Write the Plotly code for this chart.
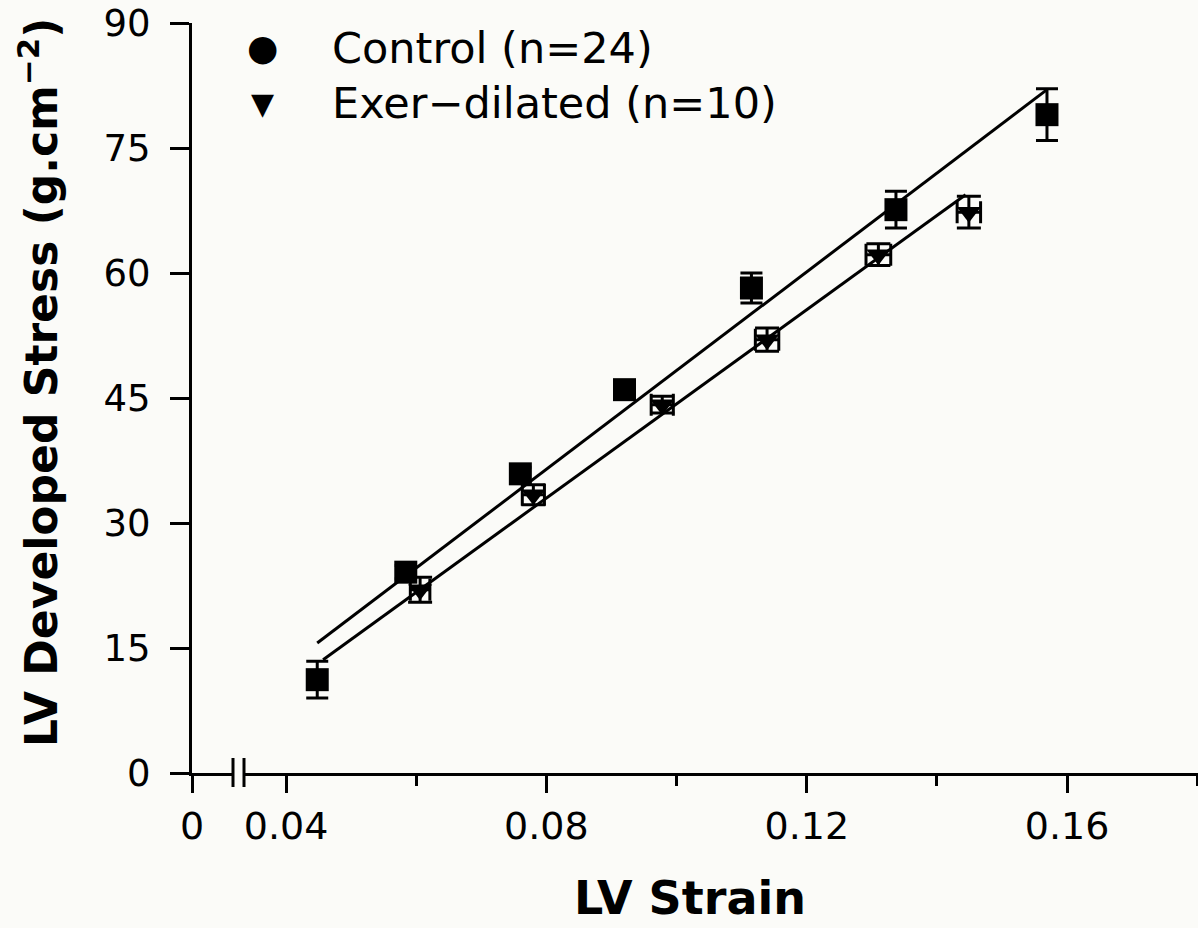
import plotly.graph_objects as go

# Control group: mean LV strain, mean developed stress and its SEM
ctrl_strain = [0.0448, 0.0584, 0.0760, 0.0920, 0.1115, 0.1337, 0.1569]
ctrl_stress = [11.2, 24.1, 35.9, 46.0, 58.2, 67.6, 79.0]
ctrl_stress_err = [2.2, 0.8, 0.8, 0.9, 1.8, 2.2, 3.1]

# Exercise-dilated group: means with SEM in both directions
exer_strain = [0.0606, 0.0780, 0.0978, 0.1139, 0.1310, 0.1449]
exer_stress = [22.0, 33.4, 44.2, 52.0, 62.2, 67.3]
exer_stress_err = [1.5, 1.2, 1.0, 1.4, 1.3, 1.9]
exer_strain_err = [0.0015, 0.0017, 0.0017, 0.0018, 0.0019, 0.0018]

# Regression lines (end points)
ctrl_fit_strain = [0.0448, 0.1569]
ctrl_fit_stress = [15.6, 82.0]
exer_fit_strain = [0.0457, 0.1444]
exer_fit_stress = [13.6, 69.4]

legend_labels = ["Control (n=24)", "Exer\u2212dilated (n=10)"]
legend_symbols = ["\u25CF", "\u25BC"]

x_ticks = [0.04, 0.08, 0.12, 0.16]
y_ticks = [0, 15, 30, 45, 60, 75, 90]

FONT = "DejaVu Sans"
INK = "black"
BG = "#fbfbf8"

W, H = 1198, 928
ML, MR, MT, MB = 192, 0, 23, 155
PW = W - ML - MR
PH = H - MT - MB

# broken x axis: short stub holding the origin, then the data range
stub_end = 41 / PW
main_start = 52 / PW
px_per_unit = 6510.0
main_lo = 0.04 - 42 / px_per_unit
main_hi = 0.1801

fig = go.Figure()

# empty trace so the origin stub axis is laid out
fig.add_trace(go.Scatter(x=[], y=[], xaxis="x", yaxis="y",
                         showlegend=False, hoverinfo="skip"))

fig.add_trace(go.Scatter(
    x=ctrl_fit_strain, y=ctrl_fit_stress, mode="lines",
    line=dict(color=INK, width=3), xaxis="x2", yaxis="y", showlegend=False,
    hoverinfo="skip"))
fig.add_trace(go.Scatter(
    x=exer_fit_strain, y=exer_fit_stress, mode="lines",
    line=dict(color=INK, width=3), xaxis="x2", yaxis="y", showlegend=False,
    hoverinfo="skip"))

fig.add_trace(go.Scatter(
    x=ctrl_strain, y=ctrl_stress, mode="markers", name=legend_labels[0],
    marker=dict(symbol="square", size=23, color=INK),
    error_y=dict(type="data", array=ctrl_stress_err, color=INK,
                 thickness=3, width=11),
    xaxis="x2", yaxis="y", showlegend=False))

fig.add_trace(go.Scatter(
    x=exer_strain, y=exer_stress, mode="markers", name=legend_labels[1],
    marker=dict(symbol="triangle-down", size=21, color=INK),
    error_y=dict(type="data", array=exer_stress_err, color=INK,
                 thickness=3, width=12),
    error_x=dict(type="data", array=exer_strain_err, color=INK,
                 thickness=3, width=11),
    xaxis="x2", yaxis="y", showlegend=False))

axis_common = dict(
    showgrid=False, zeroline=False, showline=True, linecolor=INK,
    linewidth=3, ticks="outside", tickcolor=INK, tickwidth=3,
)
x_font = dict(family=FONT, size=38, color=INK)
y_font = dict(family=FONT, size=37, color=INK)

fig.update_layout(
    width=W, height=H,
    margin=dict(l=ML, r=MR, t=MT, b=MB, pad=0),
    paper_bgcolor=BG, plot_bgcolor=BG,
    showlegend=False,
    xaxis=dict(
        domain=[0, stub_end], range=[0, 41 / px_per_unit],
        tickvals=[0], ticktext=["0"], ticklen=17, anchor="y",
        tickfont=x_font, **axis_common),
    xaxis2=dict(
        domain=[main_start, 1], range=[main_lo, main_hi],
        tickvals=x_ticks, ticktext=[f"{v:.2f}" for v in x_ticks],
        ticklen=17, anchor="y", tickfont=x_font,
        minor=dict(dtick=0.02, tick0=0.0, ticklen=10, tickwidth=3,
                   tickcolor=INK, ticks="outside"),
        **axis_common),
    yaxis=dict(
        range=[0, 90], tickvals=y_ticks, ticklen=19, anchor="x",
        ticklabelstandoff=12, tickfont=y_font, **axis_common),
)

# break marks on the x axis
for xp in (stub_end, main_start):
    fig.add_shape(type="line", xref="paper", yref="paper",
                  x0=xp, x1=xp, y0=15 / PH, y1=-14 / PH,
                  line=dict(color=INK, width=3))

# axis titles
fig.add_annotation(
    text="<b>LV Strain</b>", xref="paper", yref="paper",
    x=(690 - ML) / PW, y=(MT + PH - 927) / PH, xanchor="center",
    yanchor="bottom", showarrow=False,
    font=dict(family=FONT, size=46, color=INK))
fig.add_annotation(
    text="<b>LV Developed Stress (g.cm<sup>\u22122</sup>)</b>",
    xref="paper", yref="paper", textangle=-90,
    x=(38 - ML) / PW, y=(MT + PH - 383) / PH, xanchor="center",
    yanchor="middle", showarrow=False,
    font=dict(family=FONT, size=44, color=INK))

# legend block
rows_y = [48, 103]
for sym, lab, ry in zip(legend_symbols, legend_labels, rows_y):
    yp = (MT + PH - ry) / PH
    fig.add_annotation(
        text=sym, xref="paper", yref="paper", x=(262 - ML) / PW, y=yp,
        xanchor="center", yanchor="middle", showarrow=False,
        font=dict(family=FONT, size=36 if sym == "\u25CF" else 30,
                  color=INK))
    fig.add_annotation(
        text=lab, xref="paper", yref="paper", x=(330 - ML) / PW, y=yp,
        xanchor="left", yanchor="middle", showarrow=False,
        font=dict(family=FONT, size=43, color=INK))

fig.write_html("out.html")
